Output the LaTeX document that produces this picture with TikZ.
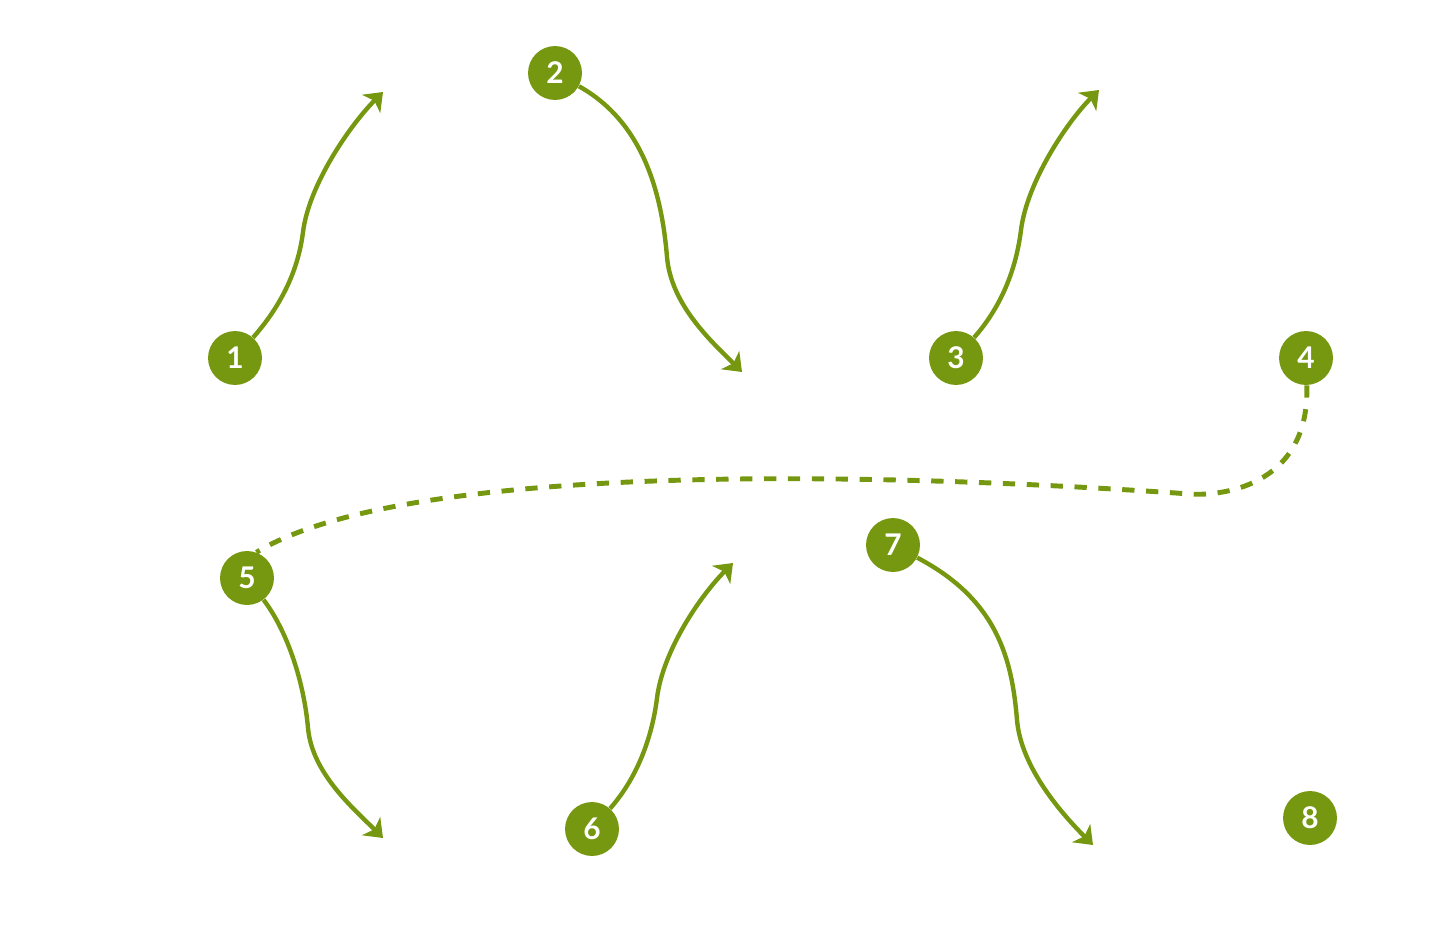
\documentclass[tikz,border=0pt]{standalone}
\usepackage{fontspec}
\setmainfont{Lato}
\usetikzlibrary{arrows.meta}
\definecolor{leaf}{RGB}{118,152,16}
\begin{document}
\begin{tikzpicture}[x=0.02cm,y=-0.02cm,
    badge/.style={circle,fill=leaf,text=white,inner sep=0pt,minimum size=30.7pt,
      font=\bfseries\fontsize{17}{17}\selectfont},
    trail/.style={draw=leaf,line width=2.5pt}]
      \useasboundingbox (0,0) rectangle (1433,933);
      \draw
        (235,358) node[badge] (n1){1}
        (555,73) node[badge] (n2){2}
        (956,358) node[badge] (n3){3}
        (1306,358) node[badge] (n4){4}
        (247,578) node[badge] (n5){5}
        (592,829) node[badge] (n6){6}
        (893,545) node[badge] (n7){7}
        (1310,818) node[badge] (n8){8};
      \draw
        (303,232) coordinate (m1) (383,92) coordinate (e1)
        (667,257) coordinate (m2) (742,372) coordinate (e2)
        (1021,230) coordinate (m3) (1099,90) coordinate (e3)
        (308,728) coordinate (m5) (383,838) coordinate (e5)
        (657,698) coordinate (m6) (733,563) coordinate (e6)
        (1017,720) coordinate (m7) (1093,845) coordinate (e7)
        (1190,494) coordinate (d4);
      \begin{scope}[trail,-{Stealth[length=9.5pt,width=14.5pt,inset=2.5pt]}]
        \draw (n1) .. controls +(45,-51) and +(-5,40) .. (m1)
          .. controls +(6,-48) and +(-32,32) .. (e1);
        \draw (n2) .. controls +(90,50) and +(-5,-60) .. (m2)
          .. controls +(4,48) and +(-30,-30) .. (e2);
        \draw (n3) .. controls +(45,-51) and +(-5,40) .. (m3)
          .. controls +(6,-48) and +(-32,32) .. (e3);
        \draw (n5) .. controls +(41,54) and +(-4,-45) .. (m5)
          .. controls +(4,45) and +(-30,-30) .. (e5);
        \draw (n6) .. controls +(45,-51) and +(-5,40) .. (m6)
          .. controls +(6,-48) and +(-32,32) .. (e6);
        \draw (n7) .. controls +(105,55) and +(-5,-60) .. (m7)
          .. controls +(4,48) and +(-30,-30) .. (e7);
      \end{scope}
      \begin{scope}[trail,line width=2.8pt,dash pattern=on 7pt off 6.6pt]
        \draw (n4) .. controls +(4,132) and +(25,2) .. (d4)
          .. controls +(-340,-24) and +(144,-88) .. (n5.70);
      \end{scope}
    \end{tikzpicture}
\end{document}
